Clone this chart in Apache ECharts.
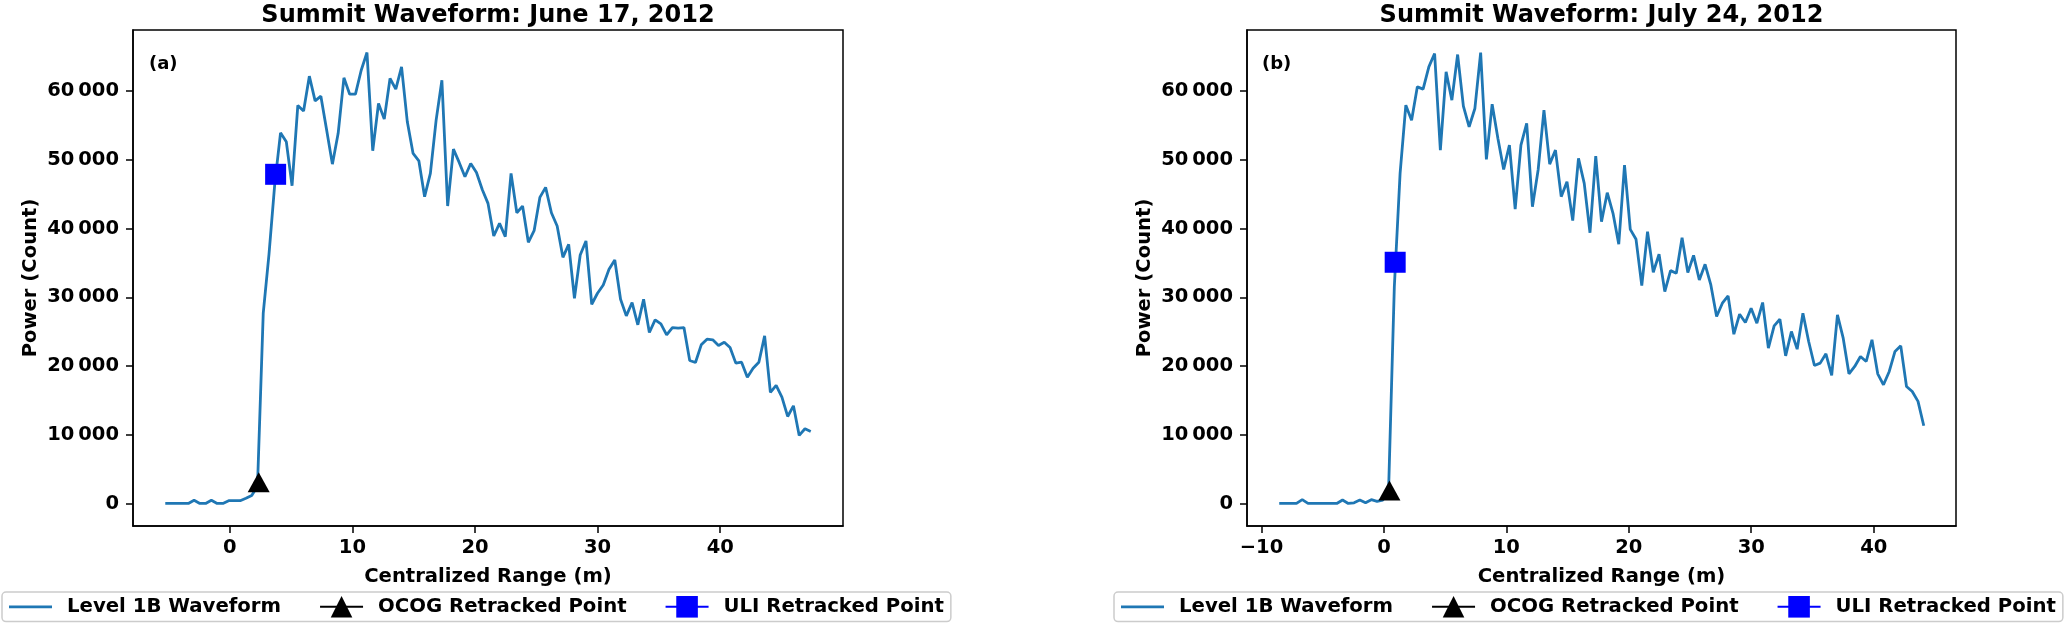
<!DOCTYPE html>
<html>
<head>
<meta charset="utf-8">
<script src="https://cdn.jsdelivr.net/npm/echarts@6/dist/echarts.min.js"></script>
<style>
html,body{margin:0;padding:0;background:#ffffff;}
#chart{width:2067px;height:628px;}
</style>
</head>
<body>
<div id="chart"></div>
<script>
// ---------- data ----------
const titles = ['Summit Waveform: June 17, 2012', 'Summit Waveform: July 24, 2012'];
const panelLabels = ['(a)', '(b)'];
const legendNames = ['Level 1B Waveform', 'OCOG Retracked Point', 'ULI Retracked Point'];
const xAxisTitle = 'Centralized Range (m)';
const yAxisTitle = 'Power (Count)';
const xTicksA = [0, 10, 20, 30, 40];
const xTicksB = [-10, 0, 10, 20, 30, 40];
const yTicks = [0, 10000, 20000, 30000, 40000, 50000, 60000];

// range bin grid (m)
const rangeStartA = -5.26;
const rangeStartB = -8.55;
const binStep = 0.47;

// waveform power (counts), one value per range bin
const powerA = [
  0, 0, 0, 0, 0, 470, 0, 0, 470, 0,
  0, 400, 400, 400, 750, 1160, 2500, 27700, 36300, 46500,
  53940, 52650, 46240, 57920, 57100, 62180, 58590, 59270, 54340, 49380,
  53860, 61940, 59560, 59560, 63050, 65620, 51330, 58210, 55930, 61840,
  60290, 63530, 55540, 50930, 49870, 44640, 48030, 55780, 61590, 43280,
  51570, 49630, 47550, 49480, 48170, 45700, 43670, 38920, 40760, 38830,
  48030, 42310, 43280, 38000, 39700, 44540, 46000, 42310, 40370, 35820,
  37710, 29860, 36160, 38200, 28990, 30590, 31800, 34080, 35440, 29720,
  27300, 29240, 26000, 29720, 24880, 26720, 26140, 24540, 25600, 25500,
  25600, 20800, 20510, 23080, 23910, 23810, 22990, 23470, 22700, 20420,
  20560, 18380, 19690, 20560, 24390, 16150, 17170, 15470, 12660, 14210,
  9900, 10870, 10480
];
const powerB = [
  0, 0, 0, 0, 550, 0, 0, 0, 0, 0,
  0, 500, 0, 100, 500, 100, 550, 300, 500, 1800,
  31500, 48000, 57960, 55780, 60630, 60290, 63540, 65480, 51430, 62810,
  58690, 65330, 57820, 54820, 57480, 65620, 50070, 58110, 53120, 48610,
  52150, 42850, 52150, 55300, 43190, 48610, 57240, 49380, 51430, 44650,
  46830, 41160, 50220, 46590, 39400, 50560, 41010, 45230, 42230, 37720,
  49240, 39890, 38440, 31700, 39550, 33640, 36260, 30830, 33880, 33500,
  38680, 33590, 36110, 32530, 34810, 31800, 27200, 29140, 30200, 24630,
  27540, 26330, 28410, 26230, 29240, 22600, 25840, 26810, 21480, 25020,
  22450, 27690, 23570, 20080, 20420, 21780, 18630, 27440, 24050, 18870,
  19940, 21390, 20660, 23810, 18870, 17270, 19210, 22120, 22940, 17030,
  16300, 14850, 11310
];

// retracked points [range (m), power]
const ocogA = [2.36, 3080];
const uliA = [3.74, 47900];
const ocogB = [0.45, 1900];
const uliB = [0.92, 35100];

// ---------- build ----------
const FONT = 'DejaVu Sans';
const BLUE = '#1f77b4';

function pairs(start, values) {
  return values.map((v, i) => [start + i * binStep, v]);
}
function paddedRange(lo, hi) {
  const m = (hi - lo) * 0.05;
  return [lo - m, hi + m];
}
const seriesA = pairs(rangeStartA, powerA);
const seriesB = pairs(rangeStartB, powerB);
const xrA = paddedRange(seriesA[0][0], seriesA[seriesA.length - 1][0]);
const xrB = paddedRange(seriesB[0][0], seriesB[seriesB.length - 1][0]);
const yr = paddedRange(0, Math.max(Math.max(...powerA), Math.max(...powerB)));

const grids = [
  { left: 133, top: 30, width: 710, height: 496 },
  { left: 1247, top: 30, width: 709, height: 496 }
];

const txt = (size) => ({ fontFamily: FONT, fontWeight: 'bold', fontSize: size, color: '#000' });

function xAxisFor(idx, ticks, range) {
  return {
    type: 'value', gridIndex: idx, min: range[0], max: range[1],
    name: xAxisTitle, nameLocation: 'middle', nameGap: 41,
    nameTextStyle: txt(19.6),
    axisLine: { show: true, onZero: false, lineStyle: { color: '#000', width: 1.5 } },
    axisTick: { show: true, inside: false, length: 7, customValues: ticks, lineStyle: { color: '#000', width: 1.5 } },
    axisLabel: Object.assign(txt(19.5), {
      customValues: ticks, margin: 12,
      formatter: (v) => String(v).replace('-', '\u2212')
    }),
    splitLine: { show: false }
  };
}
function yAxisFor(idx) {
  return {
    type: 'value', gridIndex: idx, min: yr[0], max: yr[1],
    name: yAxisTitle, nameLocation: 'middle', nameGap: 92,
    nameTextStyle: txt(19.6),
    axisLine: { show: true, onZero: false, lineStyle: { color: '#000', width: 1.5 } },
    axisTick: { show: true, inside: false, length: 7, customValues: yTicks, lineStyle: { color: '#000', width: 1.5 } },
    axisLabel: Object.assign(txt(19.5), {
      customValues: yTicks, margin: 14,
      formatter: (v) => String(Math.round(v)).replace(/\B(?=(\d{3})+(?!\d))/g, '\u2009')
    }),
    splitLine: { show: false }
  };
}

function panelSeries(idx, wave, ocog, uli) {
  return [
    { name: legendNames[0], type: 'line', xAxisIndex: idx, yAxisIndex: idx, data: wave,
      symbol: 'none', showSymbol: false, lineStyle: { color: BLUE, width: 2.8 },
      itemStyle: { color: BLUE }, z: 2 },
    { name: legendNames[1], type: 'line', xAxisIndex: idx, yAxisIndex: idx, data: [ocog],
      symbol: 'triangle', symbolSize: [22, 20], itemStyle: { color: '#000' },
      lineStyle: { color: '#000', width: 2.8 }, z: 3 },
    { name: legendNames[2], type: 'line', xAxisIndex: idx, yAxisIndex: idx, data: [uli],
      symbol: 'rect', symbolSize: 21, itemStyle: { color: '#0000ff' },
      lineStyle: { color: '#0000ff', width: 2.8 }, z: 4 }
  ];
}

function legendAt(left) {
  return {
    data: [{ name: legendNames[0], icon: 'path://M0,0H43V2.8H0Z' }, legendNames[1], legendNames[2]],
    left: left, top: 592, width: 952, orient: 'horizontal',
    itemWidth: 43, itemHeight: 27, itemGap: 38,
    padding: [4, 7], borderColor: '#cccccc', borderWidth: 1.5, borderRadius: 4,
    backgroundColor: '#ffffff', selectedMode: false,
    textStyle: Object.assign(txt(19.7), { padding: [0, 0, 0, 10] })
  };
}

const chart = echarts.init(document.getElementById('chart'), null, { renderer: 'canvas' });
chart.setOption({
  animation: false,
  backgroundColor: '#ffffff',
  grid: grids.map(g => Object.assign({ show: true, borderColor: '#000', borderWidth: 1.5, backgroundColor: 'transparent' }, g)),
  xAxis: [xAxisFor(0, xTicksA, xrA), xAxisFor(1, xTicksB, xrB)],
  yAxis: [yAxisFor(0), yAxisFor(1)],
  legend: [legendAt(2), legendAt(1114)],
  series: [].concat(panelSeries(0, seriesA, ocogA, uliA), panelSeries(1, seriesB, ocogB, uliB)),
  graphic: [
    { type: 'text', x: grids[0].left + grids[0].width / 2, y: 4,
      style: { text: titles[0], fontFamily: FONT, fontWeight: 'bold', fontSize: 24, fill: '#000', align: 'center', verticalAlign: 'top' } },
    { type: 'text', x: grids[1].left + grids[1].width / 2, y: 4,
      style: { text: titles[1], fontFamily: FONT, fontWeight: 'bold', fontSize: 24, fill: '#000', align: 'center', verticalAlign: 'top' } },
    { type: 'text', x: 149, y: 64,
      style: { text: panelLabels[0], fontFamily: FONT, fontWeight: 'bold', fontSize: 18, fill: '#000', align: 'left', verticalAlign: 'middle' } },
    { type: 'text', x: 1262, y: 64,
      style: { text: panelLabels[1], fontFamily: FONT, fontWeight: 'bold', fontSize: 18, fill: '#000', align: 'left', verticalAlign: 'middle' } }
  ]
});
</script>
</body>
</html>
